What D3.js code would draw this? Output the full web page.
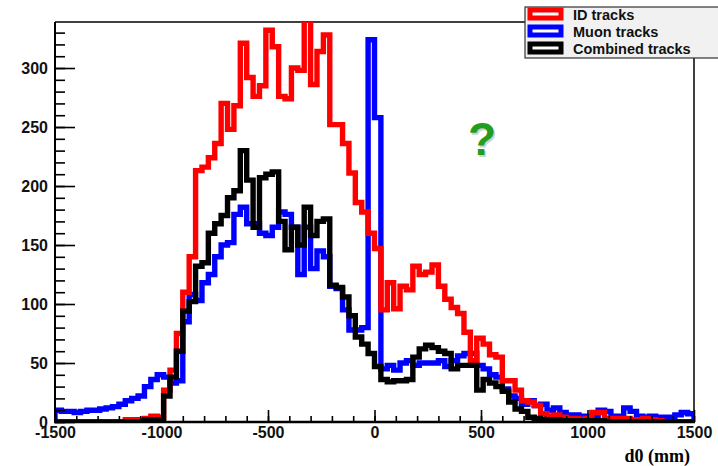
<!DOCTYPE html>
<html>
<head>
<meta charset="utf-8">
<script src="https://cdn.jsdelivr.net/npm/d3@7"></script>
<style>
  html, body { margin: 0; padding: 0; background: #fff; }
  svg { display: block; font-family: "Liberation Sans", Arial, sans-serif; }
  .axis text { font-size: 16px; font-weight: bold; fill: #111; }
  .axis path { display: none; }
  .axis line { stroke: #000; stroke-width: 1.6; }
</style>
</head>
<body>
<div class="container"></div>
<script>
const w = 718;
const h = 466;
const margin = { top: 22, bottom: 44, left: 55, right: 24 };

// d0 binning: 100 bins of 30 mm from -1500 to 1500
const d0Min = -1500;
const d0Max = 1500;
const binWidth = 30;

const seriesNames = ["ID tracks", "Muon tracks", "Combined tracks"];
const seriesColors = ["#ff0000", "#0000ff", "#000000"];

const idTracks = [
  0, 0, 0, 0, 0, 0, 0, 0, 0, 0, 0,
  2, 2, 1, 3, 5, 4, 27, 44, 75, 110,
  140, 213, 216, 224, 236, 270, 248, 268, 321, 292,
  276, 285, 332, 318, 276, 274, 300, 298, 345, 286,
  314, 328, 252, 252, 236, 211, 186, 178, 160, 147,
  95, 118, 96, 115, 112, 132, 125, 127, 133, 115,
  104, 97, 92, 76, 52, 71, 66, 57, 55, 35,
  35, 27, 18, 17, 14, 7, 5, 6, 4, 3,
  3, 2, 3, 8, 8, 3, 3, 3, 3, 2,
  2, 3, 2, 1, 0, 0, 0, 0, 0
];

const muonTracks = [
  10, 9, 9, 8, 9, 10, 10, 11, 12, 13, 15,
  18, 20, 22, 30, 36, 40, 38, 33, 35, 85,
  108, 103, 118, 125, 140, 150, 152, 176, 182, 168,
  168, 160, 158, 165, 178, 176, 165, 125, 165, 130,
  145, 140, 115, 113, 95, 78, 78, 80, 324, 258,
  45, 48, 44, 50, 52, 48, 50, 50, 50, 52,
  47, 52, 56, 58, 58, 48, 45, 40, 38, 28,
  22, 20, 15, 18, 14, 15, 10, 12, 8, 6,
  6, 5, 5, 5, 10, 9, 5, 5, 12, 9,
  5, 4, 5, 4, 4, 4, 6, 8, 7
];

const combinedTracks = [
  0, 0, 0, 0, 0, 0, 0, 0, 0, 0, 0, 0, 0, 0,
  2, 1, 2, 22, 38, 60, 94,
  102, 132, 135, 160, 168, 175, 190, 196, 230, 205,
  165, 207, 210, 212, 170, 146, 165, 150, 182, 158,
  170, 172, 116, 114, 106, 90, 72, 66, 58, 47,
  36, 34, 35, 35, 36, 55, 62, 65, 63, 60,
  58, 45, 48, 48, 48, 27, 36, 33, 30, 26,
  17, 11, 9, 4, 3, 2, 2, 2, 1, 1,
  1, 1, 1, 1, 1, 0, 0, 0, 0, 0, 0, 0, 0, 0, 0, 0, 0, 0, 0
];

const xMajorTicks = [-1500, -1000, -500, 0, 500, 1000, 1500];
const yMajorTicks = [0, 50, 100, 150, 200, 250, 300];
const yMax = 339;

const width = w - margin.left - margin.right;
const height = h - margin.top - margin.bottom;

const svg = d3.select('.container').append('svg')
        .attr('width', w)
        .attr('height', h);

const x = d3.scaleLinear()
        .domain([d0Min, d0Max])
        .range([margin.left, margin.left + width]);

const y = d3.scaleLinear()
        .domain([0, yMax])
        .range([margin.top + height, margin.top]);

svg.append('defs').append('clipPath')
    .attr('id', 'frame-clip')
  .append('rect')
    .attr('x', margin.left)
    .attr('y', margin.top)
    .attr('width', width)
    .attr('height', height);

// frame (top and right thin, axes thicker)
svg.append('line')
    .attr('x1', x(d0Min)).attr('x2', x(d0Max))
    .attr('y1', y(yMax)).attr('y2', y(yMax))
    .attr('stroke', '#000').attr('stroke-width', 1.5);
svg.append('line')
    .attr('x1', x(d0Max)).attr('x2', x(d0Max))
    .attr('y1', y(yMax)).attr('y2', y(0))
    .attr('stroke', '#000').attr('stroke-width', 1.5);

// step outline of a histogram, starting and ending on the baseline
function stepPath(values) {
  const pts = [[x(d0Min), y(0)]];
  values.forEach((v, i) => {
    const lo = d0Min + i * binWidth;
    pts.push([x(lo), y(v)]);
    pts.push([x(lo + binWidth), y(v)]);
  });
  pts.push([x(d0Max), y(0)]);
  return d3.line()(pts);
}

const histos = svg.append('g')
    .attr('clip-path', 'url(#frame-clip)');

// drawing order: muon, ID, combined
[[muonTracks, 1], [idTracks, 0], [combinedTracks, 2]].forEach(([vals, k]) => {
  histos.append('path')
      .attr('d', stepPath(vals))
      .attr('fill', 'none')
      .attr('stroke', seriesColors[k])
      .attr('stroke-width', 5.4)
      .attr('stroke-linejoin', 'miter')
      .attr('stroke-linecap', 'square');
});

// axes
const yAxis = d3.axisLeft(y)
    .tickValues(yMajorTicks)
    .tickSize(-20)
    .tickPadding(7)
    .tickFormat(d => String(d));
const yMinor = d3.axisLeft(y)
    .tickValues(d3.range(0, yMax, 10))
    .tickSize(-10)
    .tickFormat('');
const xAxis = d3.axisBottom(x)
    .tickValues(xMajorTicks)
    .tickSize(-12)
    .tickPadding(5)
    .tickFormat(d => String(d));
const xMinor = d3.axisBottom(x)
    .tickValues(d3.range(d0Min, d0Max + 1, 100))
    .tickSize(-6)
    .tickFormat('');

svg.append('g').classed('axis', true)
    .attr('transform', `translate(${margin.left},0)`)
    .call(yMinor);
svg.append('g').classed('axis', true)
    .attr('transform', `translate(${margin.left},0)`)
    .call(yAxis);
svg.append('g').classed('axis', true)
    .attr('transform', `translate(0,${y(0)})`)
    .call(xMinor);
svg.append('g').classed('axis', true)
    .attr('transform', `translate(0,${y(0)})`)
    .call(xAxis);

svg.append('line')
    .attr('x1', x(d0Min)).attr('x2', x(d0Min))
    .attr('y1', y(yMax)).attr('y2', y(0) + 1)
    .attr('stroke', '#000').attr('stroke-width', 2);
svg.append('line')
    .attr('x1', x(d0Min) - 1).attr('x2', x(d0Max) + 1)
    .attr('y1', y(0)).attr('y2', y(0))
    .attr('stroke', '#000').attr('stroke-width', 2.5);

svg.append('text')
    .attr('x', 690)
    .attr('y', 462)
    .attr('text-anchor', 'end')
    .style('font-family', '"Liberation Serif", "Times New Roman", serif')
    .style('font-weight', 'bold')
    .style('font-size', '18px')
    .text('d0 (mm)');

// question mark
svg.append('text')
    .attr('x', 482).attr('y', 155)
    .attr('text-anchor', 'middle')
    .style('font-size', '46px').style('font-weight', 'bold')
    .attr('fill', '#999').attr('opacity', 0.45)
    .attr('transform', 'translate(1.5,1.5)')
    .text('?');
svg.append('text')
    .attr('x', 482).attr('y', 155)
    .attr('text-anchor', 'middle')
    .style('font-size', '46px').style('font-weight', 'bold')
    .attr('fill', '#1f9e1f')
    .text('?');

// legend
const legend = svg.append('g');
legend.append('rect')
    .attr('x', 525).attr('y', 7)
    .attr('width', 220).attr('height', 51)
    .attr('fill', '#f1f1f1')
    .attr('stroke', '#333').attr('stroke-width', 1.2);

const entries = legend.selectAll('g.entry')
    .data(seriesNames)
    .enter().append('g')
      .attr('class', 'entry')
      .attr('transform', (d, i) => `translate(0,${i * 17})`);
entries.append('rect')
    .attr('x', 530).attr('y', 10)
    .attr('width', 31).attr('height', 8)
    .attr('fill', '#fff')
    .attr('stroke', (d, i) => seriesColors[i])
    .attr('stroke-width', 5);
entries.append('text')
    .attr('x', 573).attr('y', 20)
    .style('font-size', '14.5px').style('font-weight', 'bold')
    .attr('fill', '#111')
    .text(d => d);
</script>
</body>
</html>
